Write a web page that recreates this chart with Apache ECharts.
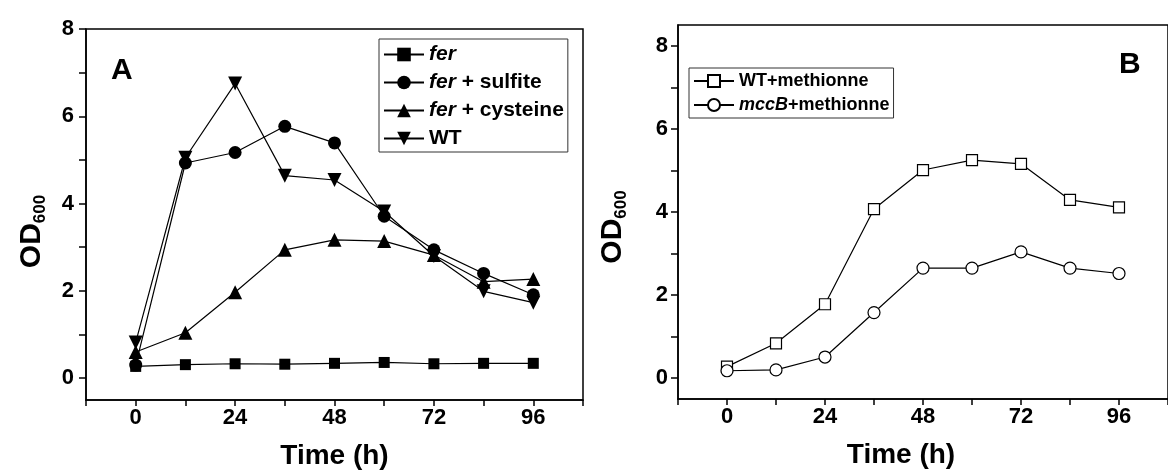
<!DOCTYPE html>
<html>
<head>
<meta charset="utf-8">
<script src="https://cdn.jsdelivr.net/npm/echarts@6/dist/echarts.min.js"></script>
<style>
html,body{margin:0;padding:0;background:#fff;}
#c{width:1168px;height:475px;}
</style>
</head>
<body>
<div id="c"></div>
<script>
// ---- data ----
const hours = [0, 12, 24, 36, 48, 60, 72, 84, 96];
const ferOD = [0.27, 0.31, 0.33, 0.32, 0.34, 0.36, 0.33, 0.34, 0.34];
const ferSulfiteOD = [0.30, 4.93, 5.17, 5.77, 5.39, 3.71, 2.94, 2.40, 1.91];
const ferCysteineOD = [0.60, 1.04, 1.97, 2.94, 3.17, 3.14, 2.82, 2.21, 2.27];
const wtOD = [0.82, 5.05, 6.75, 4.64, 4.54, 3.82, 2.80, 1.99, 1.73];
const wtMethOD = [0.28, 0.84, 1.78, 4.07, 5.01, 5.25, 5.16, 4.29, 4.11];
const mccBMethOD = [0.18, 0.20, 0.51, 1.58, 2.65, 2.65, 3.04, 2.65, 2.52];

const xTicks = [-12, 0, 12, 24, 36, 48, 60, 72, 84, 96, 108];
const xLabels = [0, 24, 48, 72, 96];
const yTicks = [0, 1, 2, 3, 4, 5, 6, 7, 8];
const yLabels = [0, 2, 4, 6, 8];

const namesA = ['fer', 'fer + sulfite', 'fer + cysteine', 'WT'];
const namesB = ['WT+methionne', 'mccB+methionne'];

const FONT = "'Liberation Sans', Arial, Helvetica, sans-serif";
const pair = arr => hours.map((h, i) => [h, arr[i]]);

function xAxisCfg(grid, namePad) {
  return {
    gridIndex: grid, type: 'value', min: -12, max: 108,
    axisLine: { show: true, onZero: false, lineStyle: { color: '#000', width: 1.5 } },
    axisTick: { show: true, inside: false, length: 6, lineStyle: { color: '#000', width: 1.5 }, customValues: xTicks },
    axisLabel: { customValues: xLabels, margin: 7, color: '#000', fontSize: 22, fontWeight: 'bold', fontFamily: FONT },
    splitLine: { show: false },
    name: 'Time (h)', nameLocation: 'middle', nameGap: 42,
    nameTextStyle: { color: '#000', fontSize: 28, fontWeight: 'bold', fontFamily: FONT, padding: namePad }
  };
}
function yAxisCfg(grid, max, gap, margin, pad) {
  return {
    gridIndex: grid, type: 'value', min: -0.5, max: max,
    axisLine: { show: true, onZero: false, lineStyle: { color: '#000', width: 1.5 } },
    axisTick: { show: true, inside: false, length: 7, lineStyle: { color: '#000', width: 1.5 }, customValues: yTicks },
    axisLabel: { customValues: yLabels, margin: margin, color: '#000', fontSize: 22, fontWeight: 'bold', fontFamily: FONT },
    splitLine: { show: false },
    name: '{a|OD}{s|600}', nameLocation: 'middle', nameGap: gap,
    nameTextStyle: {
      color: '#000', fontFamily: FONT, padding: pad,
      rich: {
        a: { fontSize: 30, fontWeight: 'bold', fontFamily: FONT, color: '#000', lineHeight: 34, verticalAlign: 'middle' },
        s: { fontSize: 17, fontWeight: 'bold', fontFamily: FONT, color: '#000', lineHeight: 16, verticalAlign: 'bottom' }
      }
    }
  };
}

function legendText(size) {
  return {
    color: '#000', fontSize: size, fontWeight: 'bold', fontFamily: FONT,
    rich: {
      i: { fontSize: size, fontWeight: 'bold', fontStyle: 'italic', fontFamily: FONT, color: '#000' },
      n: { fontSize: size, fontWeight: 'bold', fontFamily: FONT, color: '#000' }
    }
  };
}
function legendFmt(name) {
  const m = name.match(/^(fer|mccB)(.*)$/);
  if (m) return '{i|' + m[1] + '}{n|' + m[2] + '}';
  return '{n|' + name + '}';
}

function lineSeries(name, data, xi, symbol, size, filled, rotate) {
  return {
    name: name, type: 'line', xAxisIndex: xi, yAxisIndex: xi, data: pair(data),
    symbol: symbol, symbolSize: size, symbolRotate: rotate || 0, showAllSymbol: true,
    lineStyle: { color: '#000', width: 1.2 },
    itemStyle: filled ? { color: '#000', borderColor: '#000', borderWidth: 0 }
                      : { color: '#fff', borderColor: '#000', borderWidth: 1.2 },
    emphasis: { disabled: true }, animation: false, z: 3
  };
}

const chart = echarts.init(document.getElementById('c'), null, { renderer: 'canvas' });
chart.setOption({
  backgroundColor: '#fff',
  animation: false,
  title: [
    { text: 'A', left: 111, top: 56, padding: 0, textStyle: { fontSize: 30, fontWeight: 'bold', fontFamily: FONT, color: '#000' } },
    { text: 'B', left: 1119, top: 50, padding: 0, textStyle: { fontSize: 30, fontWeight: 'bold', fontFamily: FONT, color: '#000' } }
  ],
  grid: [
    { left: 86, top: 29, width: 497, height: 371, show: true, borderColor: '#000', borderWidth: 1.5, backgroundColor: 'transparent' },
    { left: 678, top: 25, width: 549, height: 374, show: true, borderColor: '#000', borderWidth: 1.5, backgroundColor: 'transparent' }
  ],
  xAxis: [ xAxisCfg(0, [0, 0, 0, 0]), xAxisCfg(1, [0, 44, 0, 0]) ],
  yAxis: [ yAxisCfg(0, 8, 37, 12, [0, 34, 0, 0]), yAxisCfg(1, 8.5, 48, 10, [0, 30, 0, 0]) ],
  legend: [
    { data: namesA, orient: 'vertical', left: 379, top: 39, itemWidth: 40, itemHeight: 17, itemGap: 7,
      borderColor: '#333', borderWidth: 1, padding: [5, 4, 3, 4], formatter: legendFmt, textStyle: legendText(21),
      selectedMode: false },
    { data: namesB, orient: 'vertical', left: 689, top: 68, itemWidth: 40, itemHeight: 15, itemGap: 6,
      borderColor: '#333', borderWidth: 1, padding: [4, 4, 4, 4], formatter: legendFmt,
      textStyle: legendText(18), selectedMode: false }
  ],
  series: [
    lineSeries(namesA[0], ferOD, 0, 'rect', 11, true),
    lineSeries(namesA[1], ferSulfiteOD, 0, 'circle', 13, true),
    lineSeries(namesA[2], ferCysteineOD, 0, 'triangle', 14, true),
    lineSeries(namesA[3], wtOD, 0, 'triangle', 14, true, 180),
    lineSeries(namesB[0], wtMethOD, 1, 'rect', 11, false),
    lineSeries(namesB[1], mccBMethOD, 1, 'circle', 12, false)
  ]
});
</script>
</body>
</html>
